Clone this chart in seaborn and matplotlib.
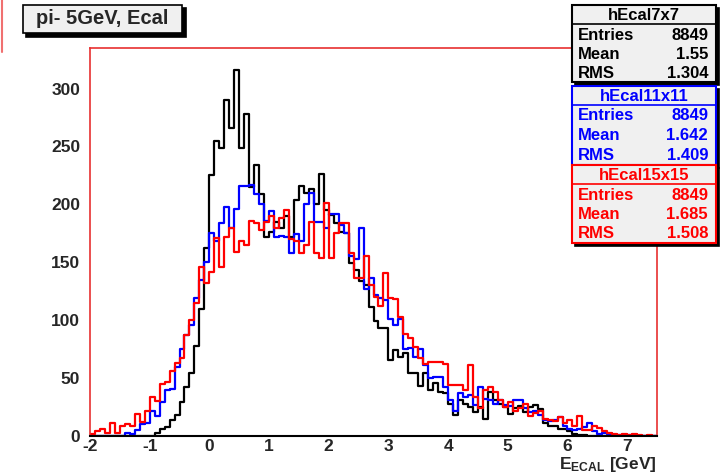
import numpy as np
import pandas as pd
import matplotlib
matplotlib.use("Agg")
import matplotlib.pyplot as plt
import seaborn as sns
from matplotlib.patches import Rectangle
from matplotlib.ticker import MultipleLocator
from matplotlib.lines import Line2D

# ---------------- data ----------------
x_min, x_max, n_bins = -2.0, 7.5, 114
edges = np.linspace(x_min, x_max, n_bins + 1)
centers = 0.5 * (edges[:-1] + edges[1:])

h7x7 = [0]*13 + [3, 6, 8, 14, 18, 29, 42, 54, 78, 110, 162, 225, 255, 249, 290, 266, 316, 249, 278, 215,
                 234, 209, 172, 176, 185, 180, 190, 172, 204, 216, 210, 213, 200, 226, 195, 191, 184, 176,
                 175, 149, 143, 134, 130, 111, 99, 93, 93, 66, 74, 68, 72, 54, 54, 43, 54, 40, 46, 38, 37,
                 28, 18, 31, 28, 25, 21, 25, 15, 38, 31, 28, 25, 19, 24, 26, 21, 25, 27, 23, 11, 9, 9, 6,
                 6, 4, 2, 1, 1] + [0]*14
h11x11 = [0]*7 + [3, 2, 5, 10, 11, 22, 17, 29, 40, 41, 60, 75, 87, 96, 119, 135, 150, 175, 168, 184, 198,
                  180, 196, 216, 216, 217, 209, 200, 186, 194, 172, 173, 172, 158, 174, 168, 200, 210, 185,
                  185, 180, 192, 192, 182, 175, 155, 153, 180, 127, 136, 122, 119, 117, 101, 96, 101, 75,
                  76, 68, 75, 61, 50, 51, 51, 42, 31, 22, 37, 34, 35, 27, 42, 32, 31, 28, 31, 27, 26, 31,
                  31, 24, 21, 22, 18, 14, 13, 14, 16, 9, 6, 5, 6, 8, 11, 4, 2, 3, 2, 1, 1, 0, 1, 1] + [0]*4
h15x15 = [2, 4, 6, 3, 11, 3, 9, 10, 9, 19, 12, 22, 34, 30, 45, 47, 56, 63, 67, 87, 100, 115, 146, 132, 142,
          171, 146, 172, 180, 159, 168, 165, 186, 184, 178, 185, 190, 180, 188, 195, 170, 168, 158, 165,
          185, 158, 154, 201, 154, 175, 184, 184, 158, 136, 136, 155, 130, 120, 112, 141, 119, 118, 103,
          88, 85, 77, 67, 62, 64, 64, 64, 62, 44, 44, 44, 40, 61, 34, 24, 40, 42, 38, 31, 25, 29, 22, 24,
          28, 17, 20, 22, 15, 14, 13, 16, 11, 14, 9, 17, 5, 5, 9, 7, 4, 3, 2, 1, 2, 1, 2, 1, 0, 1, 0]

series_names = ["hEcal7x7", "hEcal11x11", "hEcal15x15"]
series_colors = ["#000000", "#0000ff", "#ff0000"]
stat_labels = ["Entries", "Mean", "RMS"]
stat_values = [["8849", "1.55", "1.304"],
               ["8849", "1.642", "1.409"],
               ["8849", "1.685", "1.508"]]
title_text = "pi- 5GeV, Ecal"
y_ticks = [0, 50, 100, 150, 200, 250, 300]
x_ticks = [-2, -1, 0, 1, 2, 3, 4, 5, 6, 7]

df = pd.DataFrame({
    "x": np.tile(centers, 3),
    "count": np.concatenate([h7x7, h11x11, h15x15]).astype(float),
    "series": np.repeat(series_names, n_bins),
})

# ---------------- style ----------------
sns.set_theme(style="white")
plt.rcParams["font.family"] = ["Liberation Sans", "DejaVu Sans"]
plt.rcParams["font.weight"] = "bold"
plt.rcParams["axes.unicode_minus"] = False
plt.rcParams["mathtext.fontset"] = "custom"
plt.rcParams["mathtext.rm"] = "Liberation Sans:bold"
plt.rcParams["mathtext.bf"] = "Liberation Sans:bold"
plt.rcParams["mathtext.it"] = "Liberation Sans:bold"

W, H = 724, 475
fig = plt.figure(figsize=(W / 100, H / 100), dpi=100)
fig.patch.set_facecolor("white")
L, R, T, B = 90, 657, 48, 436
ax = fig.add_axes([L / W, 1 - B / H, (R - L) / W, (B - T) / H])
ax.set_facecolor("white")

for name, col in zip(series_names, series_colors):
    sub = df[df["series"] == name].reset_index(drop=True)
    sns.histplot(data=sub, x="x", weights="count", bins=n_bins, binrange=(x_min, x_max),
                 element="step", fill=False, color=col, linewidth=1.6, ax=ax)

ax.set_xlim(x_min, x_max)
ax.set_ylim(0, 335)
ax.set_xticks(x_ticks)
ax.set_yticks(y_ticks)
ax.xaxis.set_minor_locator(MultipleLocator(0.2))
ax.yaxis.set_minor_locator(MultipleLocator(10))
ax.tick_params(axis="both", which="major", direction="in", length=12, width=1, color="black",
               labelsize=12.5, pad=6)
ax.tick_params(axis="y", which="major", length=16, pad=7)
ax.tick_params(axis="both", which="minor", direction="in", length=6, width=1, color="black")
ax.tick_params(axis="x", which="major", pad=2)
for lab in ax.get_xticklabels() + ax.get_yticklabels():
    lab.set_fontweight("bold")
ax.set_xlabel("")
ax.set_ylabel("")
ax.grid(False)
for side in ["top", "right", "left"]:
    ax.spines[side].set_color("#e83030")
    ax.spines[side].set_linewidth(1.2)
ax.spines["bottom"].set_color("black")
ax.spines["bottom"].set_linewidth(1.5)

fig.text(R / W, 1 - 469 / H, r"E$_{\mathrm{ECAL}}$ [GeV]", ha="right", va="baseline",
         fontsize=12.5, fontweight="bold")

# ---------------- boxes ----------------
def px_rect(x0, y0, x1, y1, fc, ec, lw=1.2, z=5):
    r = Rectangle((x0 / W, 1 - y1 / H), (x1 - x0) / W, (y1 - y0) / H, transform=fig.transFigure,
                  facecolor=fc, edgecolor=ec, linewidth=lw, zorder=z)
    fig.add_artist(r)

def px_line(x0, y0, x1, y1, col, lw=1.2, z=6):
    fig.add_artist(Line2D([x0 / W, x1 / W], [1 - y0 / H, 1 - y1 / H], transform=fig.transFigure,
                          color=col, linewidth=lw, zorder=z))

# left canvas edge mark
px_line(1.5, 0, 1.5, 52, "#f07070", lw=1.5)

# title box
px_rect(26, 8, 186, 37, "black", "black", z=4)
px_rect(23, 5, 182, 33, "#f0f0f0", "black", lw=1.2)
fig.text(102 / W, 1 - 19 / H, title_text, ha="center", va="center", fontsize=14.5,
         fontweight="bold", zorder=7)

box_y = [(5, 82), (86, 165), (165, 243)]
for k in range(3):
    y0, y1 = box_y[k]
    col = series_colors[k]
    x0, x1 = 572, 716
    px_rect(x0 + 3, y0 + 3, x1 + 3, y1 + 3, "black", "black", z=4)
    px_rect(x0, y0, x1, y1, "#f0f0f0", col, lw=1.5)
    hdr = y0 + 19
    px_line(x0, hdr, x1, hdr, col, lw=1.2)
    fig.text((x0 + x1) / 2 / W, 1 - (y0 + 10.5) / H, series_names[k], ha="center", va="center",
             fontsize=12, fontweight="bold", color=col, zorder=7)
    for j in range(3):
        yy = y0 + 30 + j * 19.5
        fig.text(578 / W, 1 - yy / H, stat_labels[j], ha="left", va="center",
                 fontsize=12, fontweight="bold", color=col, zorder=7)
        fig.text(708 / W, 1 - yy / H, stat_values[k][j], ha="right", va="center",
                 fontsize=12, fontweight="bold", color=col, zorder=7)

fig.savefig("out.png", dpi=100)
